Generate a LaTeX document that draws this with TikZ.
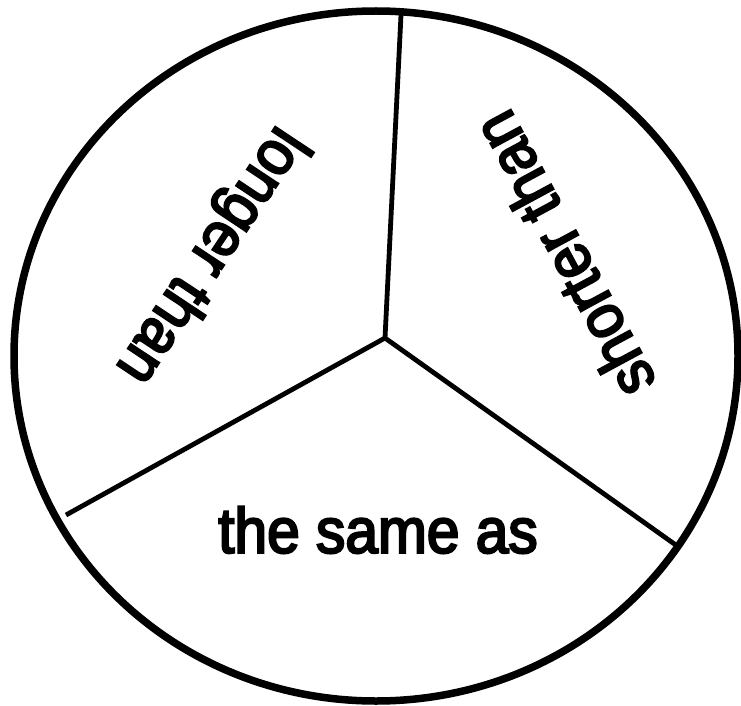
\documentclass[tikz,border=0pt]{standalone}
\usepackage{fontspec}
\setmainfont{Liberation Sans}
\newfontfamily\wordfont{Liberation Sans}[FakeStretch=0.92,FakeBold=3.5]
\usepackage{tikz}
\usetikzlibrary{calc}
\definecolor{inkx}{HTML}{000000}
\tikzset{
  rim/.style={draw=inkx,line width=7.5bp},
  spoke/.style={draw=inkx,line width=4.8bp},
  word/.style={font=\wordfont\fontsize{64}{64}\selectfont,inner sep=0pt,text=inkx}
}
\begin{document}
\begin{tikzpicture}[x=1bp,y=-1bp]
\useasboundingbox (0,0) rectangle (741,706);
\draw[rim] (376,356) ellipse [x radius=362,y radius=345];
\coordinate (O) at (385,338); \coordinate (Top) at (401,15); \coordinate (Lft) at (66,515); \coordinate (Rgt) at (680,548);
\draw[spoke] (O)--(Top) (O)--(Lft) (O)--(Rgt);
\node[word,rotate=236.4] (longer) at (210,255) {longer than};
\node[word,rotate=118.3] (shorter) at (563,255) {shorter than};
\node[word] (same) at (378,530) {the same as};
\end{tikzpicture}
\end{document}
